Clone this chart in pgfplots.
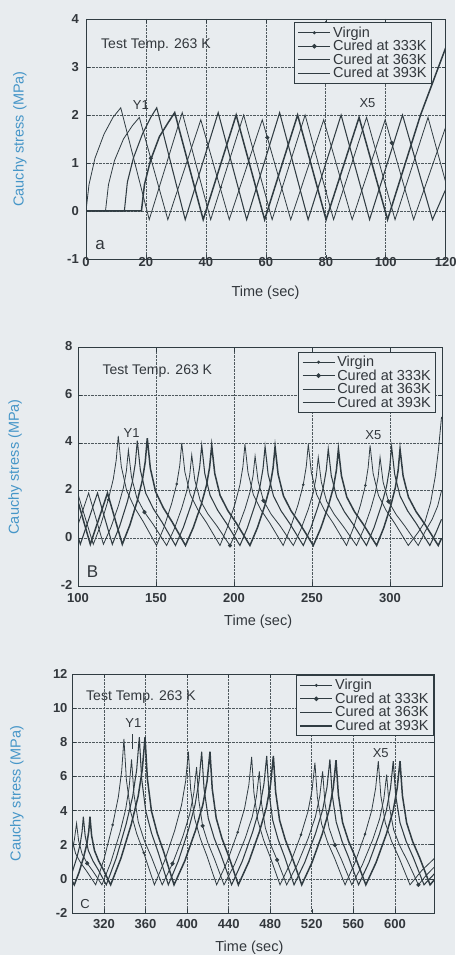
\documentclass[border=0pt]{standalone}
\usepackage{pgfplots}
\pgfplotsset{compat=1.18}
\usepackage{fontspec}
\setmainfont{Liberation Sans}
\definecolor{bg}{RGB}{232,236,239}
\definecolor{ln}{RGB}{48,60,66}
\definecolor{lbl}{RGB}{70,150,200}
\definecolor{tk}{RGB}{50,55,60}
\pgfplotsset{
 panel/.style={
  scale only axis, anchor=south west,
  axis background/.style={fill=bg},
  axis line style={ln, line width=0.9pt},
  tick style={ln, line width=0.6pt},
  major tick length=4pt,
  tick align=inside,
  grid=major,
  major grid style={ln!85, densely dotted, line width=0.7pt},
  /pgf/number format/assume math mode=true,
  ticklabel style={font=\fontsize{13}{13}\selectfont\bfseries, text=tk},
  label style={font=\fontsize{14.5}{15}\selectfont},
  ylabel={Cauchy stress (MPa)},
  xlabel={Time (sec)},
  ylabel style={text=lbl, anchor=center},
  xlabel style={text=tk, anchor=center},
  legend cell align=left,
  legend style={draw=ln, line width=0.8pt, fill=bg, font=\fontsize{14.5}{15}\selectfont, inner xsep=3pt, inner ysep=2pt, row sep=-2.5pt, anchor=north east, text=tk},
  legend image code/.code={\draw[mark repeat=2,mark phase=2,#1] plot coordinates {(0pt,0pt) (16pt,0pt) (32pt,0pt)};},
 },
 sV/.style={ln, line width=0.8pt},
 s2/.style={ln, line width=0.8pt},
 s3/.style={ln, line width=1.05pt},
 s4/.style={ln, line width=1.5pt},
 mV/.style={only marks, mark=*, mark size=1.1pt, ln, forget plot},
 m2/.style={only marks, mark=*, mark size=1.9pt, ln, forget plot},
}
\begin{document}
\begin{tikzpicture}
\fill[bg] (0,0) rectangle (455pt,955pt);
\useasboundingbox (0,0) rectangle (455pt,955pt);
% ---------------- panel a ----------------
\begin{axis}[panel, at={(86pt,696pt)}, width=359.7pt, height=240pt,
  xmin=0, xmax=120, ymin=-1, ymax=4,
  xtick={0,20,...,120}, ytick={-1,0,...,4},
  xticklabel style={yshift=5pt}, yticklabel style={xshift=-3.7pt},
  ylabel style={at={(axis description cs:-0.184,0.5)}},
  xlabel style={at={(axis description cs:0.499,-0.142)}},
  legend style={at={(axis description cs:0.962,0.986)}}]
\addlegendimage{sV, mark=*, mark size=1.1pt}\addlegendentry{Virgin}
\addlegendimage{s2, mark=*, mark size=1.9pt}\addlegendentry{Cured at 333K}
\addlegendimage{s3}\addlegendentry{Cured at 363K}
\addlegendimage{s4}\addlegendentry{Cured at 393K}
\addplot[sV, forget plot] coordinates {(0,0) (1,0.55) (3,1.1) (6,1.6) (9,1.95) (11.6,2.15) (21.1,-0.18) (32.1,2.05) (41.6,-0.18) (52.6,2.0) (62.1,-0.18) (73.1,2.0) (82.6,-0.18) (93.6,1.95) (103.1,-0.18) (114.1,1.95) (120,0.6)};
\addplot[s2, forget plot] coordinates {(0,0) (6.5,0) (7.5,0.55) (9.5,1.05) (12.5,1.5) (15.5,1.78) (17.8,1.95) (27.3,-0.18) (38.3,1.9) (47.8,-0.18) (58.8,1.9) (68.3,-0.18) (79.3,1.9) (88.8,-0.18) (99.8,1.9) (109.3,-0.18) (120,1.75)};
\addplot[s3, forget plot] coordinates {(0,0) (12.8,0) (13.8,0.6) (15.8,1.1) (18.8,1.6) (21.6,1.95) (23.6,2.15) (33.1,-0.18) (44.1,2.05) (53.6,-0.18) (64.6,2.05) (74.1,-0.18) (85.1,2.0) (94.6,-0.18) (105.6,2.0) (115.6,-0.18) (120,0.45)};
\addplot[s4, forget plot] coordinates {(0,0) (18.5,0) (19.5,0.55) (21.5,1.05) (24.5,1.55) (27.5,1.85) (29.6,2.05) (39.1,-0.18) (50.1,2.0) (59.6,-0.18) (70.6,2.0) (80.1,-0.18) (91.1,1.95) (100.6,-0.18) (111.6,2.0) (120,3.4)};
\addplot[mV] coordinates {(45,0.49) (80,0.42)};
\addplot[m2] coordinates {(21.6,1.1) (60.5,1.53) (102,1.42)};
\node[anchor=west, font=\fontsize{14}{14}\selectfont, text=tk] at (axis cs:3.9,3.46) {Test Temp. 263 K};
\node[font=\fontsize{13}{13}\selectfont, text=tk] at (axis cs:18.3,2.2) {Y1};
\node[font=\fontsize{13}{13}\selectfont, text=tk] at (axis cs:93.9,2.24) {X5};
\node[font=\fontsize{17}{17}\selectfont, text=tk] at (axis cs:4.7,-0.7) {a};
\end{axis}
% ---------------- panel B ----------------
\begin{axis}[panel, at={(78pt,369pt)}, width=364pt, height=238.3pt,
  xmin=100, xmax=333.3, ymin=-2, ymax=8,
  xtick={100,150,...,300}, ytick={-2,0,...,8},
  xticklabel style={yshift=-3.5pt}, yticklabel style={xshift=-2pt, yshift=1.5pt},
  ylabel style={at={(axis description cs:-0.173,0.5)}},
  xlabel style={at={(axis description cs:0.495,-0.151)}},
  legend style={at={(axis description cs:0.984,0.983)}}]
\addlegendimage{sV, mark=*, mark size=1.1pt}\addlegendentry{Virgin}
\addlegendimage{s2, mark=*, mark size=1.9pt}\addlegendentry{Cured at 333K}
\addlegendimage{s3}\addlegendentry{Cured at 363K}
\addlegendimage{s4}\addlegendentry{Cured at 393K}
\addplot[sV, forget plot] coordinates {(100,1.85) (109.8,-0.25) (114.6,0.57) (119.4,1.62) (122.6,2.48) (124.52,3.3) (125.8,4.3) (127.76,3.01) (131.19,2.0) (136.09,1.31) (141.73,0.71) (150.3,-0.3) (155.16,0.47) (160.02,1.46) (163.26,2.28) (165.2,3.05) (166.5,4.0) (168.46,2.8) (171.89,1.85) (176.79,1.2) (182.43,0.65) (191,-0.3) (195.8,0.47) (200.6,1.44) (203.8,2.25) (205.72,3.02) (207,3.95) (208.96,2.76) (212.39,1.83) (217.29,1.19) (222.93,0.64) (231.5,-0.3) (236.33,0.47) (241.16,1.44) (244.38,2.25) (246.31,3.02) (247.6,3.95) (249.56,2.76) (252.99,1.83) (257.89,1.19) (263.53,0.64) (272.1,-0.3) (276.63,0.46) (281.16,1.42) (284.18,2.22) (285.99,2.98) (287.2,3.9) (289.16,2.72) (292.59,1.8) (297.49,1.17) (303.13,0.62) (311.7,-0.3) (318,0.25) (322.4,0.7) (326,1.5) (329,2.6) (331,3.7) (333,5.1)};
\addplot[s2, forget plot] coordinates {(100,0.57) (106.8,1.9) (116.3,-0.25) (121.1,0.46) (125.9,1.37) (129.1,2.12) (131.02,2.83) (132.3,3.7) (134.26,2.58) (137.69,1.7) (142.59,1.1) (148.23,0.58) (156.8,-0.3) (161.63,0.38) (166.46,1.26) (169.68,1.98) (171.61,2.66) (172.9,3.5) (174.86,2.44) (178.29,1.6) (183.19,1.03) (188.83,0.54) (197.4,-0.3) (202.23,0.38) (207.06,1.24) (210.28,1.95) (212.21,2.63) (213.5,3.45) (215.46,2.4) (218.89,1.58) (223.79,1.01) (229.43,0.53) (238,-0.3) (242.8,0.37) (247.6,1.22) (250.8,1.92) (252.72,2.59) (254,3.4) (255.96,2.36) (259.39,1.55) (264.29,1.0) (269.93,0.51) (278.5,-0.3) (283.03,0.37) (287.56,1.22) (290.58,1.92) (292.39,2.59) (293.6,3.4) (295.56,2.36) (298.99,1.55) (303.89,1.0) (309.53,0.51) (318.1,-0.3) (322.6,0.3) (327,0.8) (330.5,1.35) (333,2.0)};
\addplot[s3, forget plot] coordinates {(100,0.09) (101.5,-0.25) (112.5,1.9) (122,-0.25) (126.8,0.53) (131.6,1.53) (134.8,2.36) (136.72,3.14) (138,4.1) (139.96,2.87) (143.39,1.9) (148.29,1.24) (153.93,0.67) (162.5,-0.3) (167.54,0.46) (172.58,1.42) (175.94,2.22) (177.96,2.98) (179.3,3.9) (181.26,2.72) (184.69,1.8) (189.59,1.17) (195.23,0.62) (203.8,-0.3) (208.63,0.45) (213.46,1.4) (216.68,2.19) (218.61,2.94) (219.9,3.85) (221.86,2.69) (225.29,1.78) (230.19,1.15) (235.83,0.61) (244.4,-0.3) (249.2,0.43) (254,1.36) (257.2,2.13) (259.12,2.86) (260.4,3.75) (262.36,2.62) (265.79,1.73) (270.69,1.12) (276.33,0.59) (284.9,-0.3) (289.73,0.45) (294.56,1.4) (297.78,2.19) (299.71,2.94) (301,3.85) (302.96,2.69) (306.39,1.78) (311.29,1.15) (316.93,0.61) (325.5,-0.3) (329.5,0.25) (333,0.8)};
\addplot[s4, forget plot] coordinates {(100,1.54) (107.9,-0.25) (118.9,1.9) (128.4,-0.25) (133.2,0.55) (138,1.57) (141.2,2.42) (143.12,3.22) (144.4,4.2) (146.36,2.94) (149.79,1.95) (154.69,1.28) (160.33,0.69) (168.9,-0.3) (173.94,0.46) (178.98,1.42) (182.34,2.22) (184.36,2.98) (185.7,3.9) (187.66,2.72) (191.09,1.8) (195.99,1.17) (201.63,0.62) (210.2,-0.3) (215.03,0.45) (219.86,1.4) (223.08,2.19) (225.01,2.94) (226.3,3.85) (228.26,2.69) (231.69,1.78) (236.59,1.15) (242.23,0.61) (250.8,-0.3) (255.63,0.43) (260.46,1.36) (263.68,2.13) (265.61,2.86) (266.9,3.75) (268.86,2.62) (272.29,1.73) (277.19,1.12) (282.83,0.59) (291.4,-0.3) (295.9,0.43) (300.4,1.36) (303.4,2.13) (305.2,2.86) (306.4,3.75) (308.36,2.62) (311.79,1.73) (316.69,1.12) (322.33,0.59) (330.9,-0.3) (333,0.0)};
\addplot[mV] coordinates {(119.4,1.62) (163.26,2.28) (244.38,2.25) (284.18,2.22)};
\addplot[m2] coordinates {(142.59,1.1) (197.4,-0.3) (218.89,1.58) (298.99,1.55)};
\node[anchor=west, font=\fontsize{14}{14}\selectfont, text=tk] at (axis cs:113.5,7.0) {Test Temp. 263 K};
\node[font=\fontsize{13}{13}\selectfont, text=tk] at (axis cs:134.4,4.4) {Y1};
\node[font=\fontsize{13}{13}\selectfont, text=tk] at (axis cs:289.3,4.33) {X5};
\node[font=\fontsize{17}{17}\selectfont, text=tk] at (axis cs:109.4,-1.4) {B};
\end{axis}
% ---------------- panel C ----------------
\begin{axis}[panel, at={(72pt,42pt)}, width=362pt, height=239pt,
  xmin=289.2, xmax=637.6, ymin=-2, ymax=12,
  xtick={320,360,...,600}, ytick={-2,0,...,12},
  xticklabel style={yshift=-3pt}, yticklabel style={xshift=-1pt},
  ylabel style={at={(axis description cs:-0.152,0.5)}},
  xlabel style={at={(axis description cs:0.49,-0.146)}},
  legend style={at={(axis description cs:1.0,0.996)}}]
\addlegendimage{sV, mark=*, mark size=1.1pt}\addlegendentry{Virgin}
\addlegendimage{s2, mark=*, mark size=1.9pt}\addlegendentry{Cured at 333K}
\addlegendimage{s3}\addlegendentry{Cured at 363K}
\addlegendimage{s4}\addlegendentry{Cured at 393K}
\addplot[sV, forget plot] coordinates {(289,2.4) (292.66,1.48) (297.62,0.93) (303.32,0.45) (312,-0.35) (320.16,1.19) (328.32,3.16) (333.76,4.78) (337.02,6.32) (339.2,8.2) (341.54,5.81) (345.65,3.93) (351.51,2.64) (358.25,1.53) (368.5,-0.35) (378.31,1.05) (388.12,2.85) (394.66,4.33) (398.58,5.73) (401.2,7.45) (403.38,5.27) (407.18,3.55) (412.62,2.38) (418.88,1.37) (428.4,-0.35) (438.51,1.0) (448.62,2.73) (455.36,4.15) (459.4,5.5) (462.1,7.15) (464.28,5.05) (468.11,3.4) (473.57,2.28) (479.85,1.3) (489.4,-0.35) (499.48,0.94) (509.56,2.58) (516.28,3.94) (520.31,5.23) (523,6.8) (525.32,4.8) (529.38,3.23) (535.18,2.15) (541.85,1.22) (552,-0.35) (561.6,0.96) (571.2,2.62) (577.6,4.0) (581.44,5.31) (584,6.9) (586.44,4.87) (590.71,3.28) (596.81,2.19) (603.83,1.25) (614.5,-0.35) (626,0.5) (638,1.2)};
\addplot[s2, forget plot] coordinates {(289,1.45) (291.5,2.3) (293.6,3.25) (295.55,2.24) (298.97,1.45) (303.85,0.91) (309.46,0.44) (318,-0.35) (326.55,0.97) (335.1,2.66) (340.8,4.06) (344.22,5.38) (346.5,7.0) (348.86,4.94) (352.99,3.33) (358.89,2.22) (365.68,1.27) (376,-0.35) (385.93,0.89) (395.86,2.48) (402.48,3.79) (406.45,5.03) (409.1,6.55) (411.21,4.62) (414.91,3.1) (420.19,2.07) (426.26,1.17) (435.5,-0.35) (445.7,0.85) (455.9,2.38) (462.7,3.64) (466.78,4.84) (469.5,6.3) (471.6,4.44) (475.29,2.98) (480.55,1.98) (486.6,1.11) (495.8,-0.35) (506.18,0.85) (516.56,2.38) (523.48,3.64) (527.63,4.84) (530.4,6.3) (532.65,4.44) (536.58,2.98) (542.2,1.98) (548.67,1.11) (558.5,-0.35) (568.55,0.81) (578.6,2.29) (585.3,3.52) (589.32,4.68) (592,6.1) (594.45,4.29) (598.73,2.88) (604.85,1.91) (611.89,1.07) (622.6,-0.35) (630,0.2) (638,0.7)};
\addplot[s3, forget plot] coordinates {(289,0.3) (294.06,1.29) (297.08,2.05) (298.9,2.77) (300.1,3.64) (301.87,2.52) (304.96,1.65) (309.38,1.05) (314.47,0.53) (322.2,-0.35) (331.74,1.21) (341.28,3.2) (347.64,4.84) (351.46,6.4) (354,8.3) (356.23,5.88) (360.14,3.98) (365.72,2.68) (372.14,1.55) (381.9,-0.35) (391.53,1.05) (401.16,2.85) (407.58,4.33) (411.43,5.73) (414,7.45) (416.3,5.27) (420.34,3.55) (426.1,2.38) (432.72,1.37) (442.8,-0.35) (452.94,1.01) (463.08,2.75) (469.84,4.18) (473.9,5.54) (476.6,7.2) (478.7,5.09) (482.39,3.43) (487.65,2.29) (493.7,1.31) (502.9,-0.35) (513.25,0.97) (523.6,2.66) (530.5,4.06) (534.64,5.38) (537.4,7.0) (539.61,4.94) (543.47,3.33) (548.99,2.22) (555.34,1.27) (565,-0.35) (575.02,0.96) (585.04,2.62) (591.72,4.0) (595.73,5.31) (598.4,6.9) (600.77,4.87) (604.91,3.28) (610.83,2.19) (617.64,1.25) (628,-0.35) (638,0.3)};
\addplot[s4, forget plot] coordinates {(289,-0.1) (291.4,-0.35) (295.93,0.37) (300.46,1.29) (303.48,2.04) (305.29,2.76) (306.5,3.64) (308.09,2.52) (310.88,1.65) (314.86,1.05) (319.44,0.53) (326.4,-0.35) (336.33,1.21) (346.26,3.2) (352.88,4.84) (356.83,6.4) (359.5,8.3) (361.73,5.88) (365.64,3.98) (371.22,2.68) (377.64,1.55) (387.4,-0.35) (397.78,1.05) (408.16,2.85) (415.08,4.33) (419.23,5.73) (422,7.45) (424.18,5.27) (428.01,3.55) (433.47,2.38) (439.75,1.37) (449.3,-0.35) (459.41,1.01) (469.52,2.75) (476.26,4.18) (480.3,5.54) (483,7.2) (485.18,5.09) (489.01,3.43) (494.47,2.29) (500.75,1.31) (510.3,-0.35) (520.2,0.96) (530.1,2.64) (536.7,4.03) (540.66,5.34) (543.3,6.95) (545.6,4.91) (549.61,3.3) (555.35,2.21) (561.96,1.26) (572,-0.35) (581.87,0.96) (591.74,2.62) (598.32,4.0) (602.17,5.31) (604.9,6.9) (607.21,4.87) (611.26,3.28) (617.04,2.19) (623.69,1.25) (633.8,-0.35) (638,-0.05)};
\addplot[mV] coordinates {(328.32,3.16) (358.25,1.53) (448.62,2.73) (509.56,2.58) (571.2,2.62)};
\addplot[m2] coordinates {(303.85,0.91) (385.93,0.89) (414.91,3.1) (486.6,1.11) (542.2,1.98) (622.6,-0.35)};
\draw[ln, line width=0.7pt] (axis cs:347.5,7.6) -- (axis cs:347.5,8.5);
\node[anchor=west, font=\fontsize{14}{14}\selectfont, text=tk] at (axis cs:299.5,10.63) {Test Temp. 263 K};
\node[font=\fontsize{13}{13}\selectfont, text=tk] at (axis cs:348.2,9.1) {Y1};
\node[font=\fontsize{13}{13}\selectfont, text=tk] at (axis cs:586.3,7.39) {X5};
\node[font=\fontsize{13}{13}\selectfont, text=tk] at (axis cs:301.7,-1.45) {C};
\end{axis}
\end{tikzpicture}
\end{document}
